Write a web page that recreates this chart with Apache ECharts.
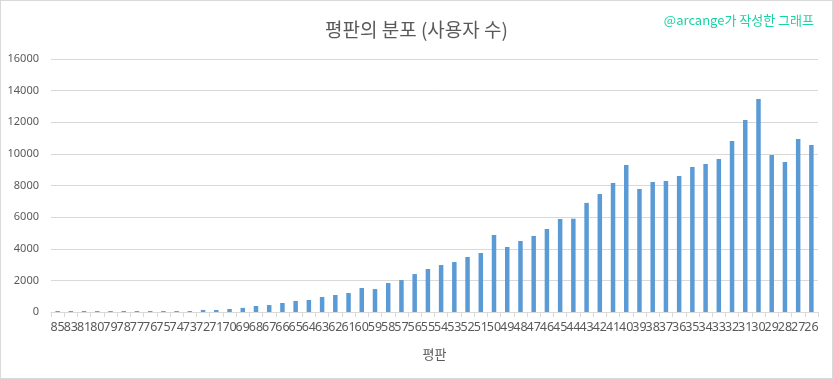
<!DOCTYPE html>
<html>
<head>
<meta charset="utf-8">
<script src="https://cdn.jsdelivr.net/npm/echarts@6/dist/echarts.min.js"></script>
<style>
html,body{margin:0;padding:0;background:#fff;}
#wrap{position:relative;width:833px;height:379px;box-sizing:border-box;border:1px solid #d9d9d9;}
#chart{position:absolute;left:-1px;top:-1px;width:833px;height:379px;}
</style>
</head>
<body>
<div id="wrap"><div id="chart"></div></div>
<script>
const titleText = '평판의 분포 (사용자 수)';
const watermark = '@arcange가 작성한 그래프';
const xAxisName = '평판';
const categories = ['85','83','81','80','79','78','77','76','75','74','73','72','71','70','69','68','67','66','65','64','63','62','61','60','59','58','57','56','55','54','53','52','51','50','49','48','47','46','45','44','43','42','41','40','39','38','37','36','35','34','33','32','31','30','29','28','27','26'];
const users = [60,60,60,60,60,60,60,60,60,60,60,130,130,190,260,380,440,570,700,760,950,1075,1200,1520,1450,1830,2020,2400,2720,2970,3160,3480,3730,4870,4110,4490,4810,5250,5880,5900,6900,7460,8160,9300,7780,8220,8290,8600,9170,9360,9680,10820,12140,13470,9930,9490,10940,10560];
const yTicks = {min:0, max:16000, interval:2000};

const chart = echarts.init(document.getElementById('chart'));
chart.setOption({
  animation:false,
  backgroundColor:'transparent',
  title:[{
    text:titleText, left:'center', top:15,
    textStyle:{color:'#595959', fontSize:19, fontWeight:'normal', fontFamily:'Noto Sans CJK KR'}
  },{
    text:watermark, right:14, top:9,
    textStyle:{color:'#1ad3a2', fontSize:13, fontWeight:'normal', fontFamily:'Noto Sans CJK KR'}
  }],
  grid:{left:51, right:15, top:59, bottom:67, containLabel:false},
  xAxis:{
    type:'category', data:categories,
    name:xAxisName, nameLocation:'middle', nameGap:36,
    nameTextStyle:{color:'#595959', fontSize:13, fontFamily:'Noto Sans CJK KR'},
    axisLine:{lineStyle:{color:'#d9d9d9', width:1}},
    axisTick:{show:true, alignWithLabel:false, length:5, lineStyle:{color:'#d9d9d9'}},
    axisLabel:{interval:0, color:'#595959', fontSize:12.5, margin:9, fontFamily:'Noto Sans'}
  },
  yAxis:{
    type:'value', min:yTicks.min, max:yTicks.max, interval:yTicks.interval,
    axisLine:{show:false}, axisTick:{show:false},
    axisLabel:{color:'#595959', fontSize:11, margin:12, fontFamily:'Noto Sans', formatter:v=>String(v)},
    splitLine:{lineStyle:{color:'#d9d9d9', width:1}}
  },
  series:[{
    type:'bar', data:users, barWidth:'34%',
    itemStyle:{color:'#5b9bd5'}
  }]
});
</script>
</body>
</html>
